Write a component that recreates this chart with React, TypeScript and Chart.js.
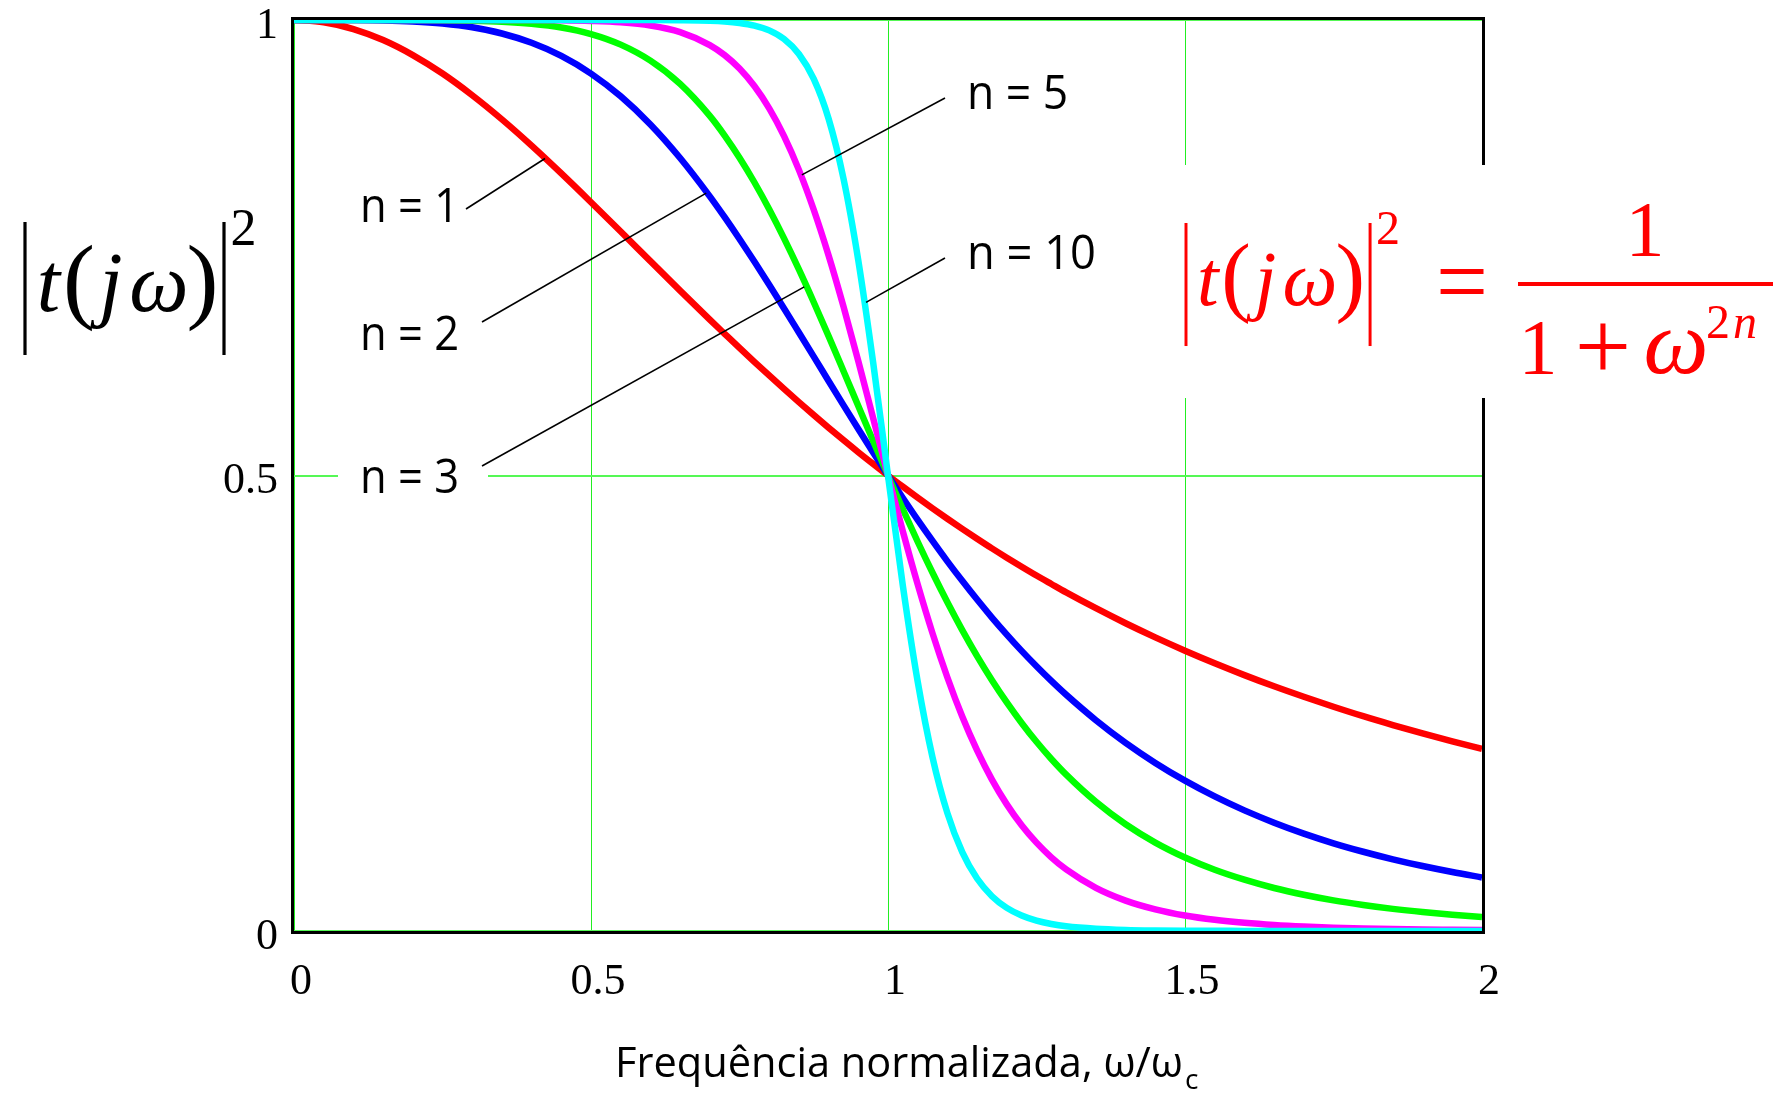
import React, { useEffect, useRef } from 'react';
import { Chart, registerables } from 'chart.js';

Chart.register(...registerables);

// ω / ωc sample positions
const OMEGA = [
  0, 0.05, 0.1, 0.15, 0.2, 0.25, 0.3, 0.35, 0.4, 0.45, 0.5, 0.55, 0.6, 0.65,
  0.7, 0.725, 0.75, 0.775, 0.8, 0.825, 0.85, 0.875, 0.9, 0.925, 0.95, 0.975, 1,
  1.025, 1.05, 1.075, 1.1, 1.125, 1.15, 1.175, 1.2, 1.225, 1.25, 1.275, 1.3,
  1.35, 1.4, 1.45, 1.5, 1.55, 1.6, 1.65, 1.7, 1.75, 1.8, 1.85, 1.9, 1.95, 2,
];

const N1 = [
  1, 0.9975, 0.9901, 0.978, 0.9615, 0.9412, 0.9174, 0.8909, 0.8621, 0.8316, 0.8, 0.7678, 0.7353, 0.703,
  0.6711, 0.6555, 0.64, 0.6248, 0.6098, 0.595, 0.5806, 0.5664, 0.5525, 0.5389, 0.5256, 0.5127, 0.5,
  0.4877, 0.4756, 0.4639, 0.4525, 0.4414, 0.4306, 0.42, 0.4098, 0.3999, 0.3902, 0.3809, 0.3717,
  0.3543, 0.3378, 0.3223, 0.3077, 0.2939, 0.2809, 0.2686, 0.2571, 0.2462, 0.2358, 0.2261, 0.2169, 0.2082, 0.2,
];

const N2 = [
  1, 1, 0.9999, 0.9995, 0.9984, 0.9961, 0.992, 0.9852, 0.975, 0.9606, 0.9412, 0.9162, 0.8853, 0.8485,
  0.8064, 0.7835, 0.7596, 0.7349, 0.7094, 0.6834, 0.657, 0.6305, 0.6038, 0.5773, 0.5511, 0.5253, 0.5,
  0.4753, 0.4513, 0.4282, 0.4058, 0.3844, 0.3638, 0.3441, 0.3254, 0.3075, 0.2906, 0.2745, 0.2593,
  0.2314, 0.2065, 0.1845, 0.165, 0.1477, 0.1324, 0.1189, 0.1069, 0.0963, 0.087, 0.0787, 0.0713, 0.0647, 0.0588,
];

const N3 = [
  1, 1, 1, 1, 1, 0.9998, 0.9993, 0.9982, 0.9959, 0.9918, 0.9846, 0.973, 0.9554, 0.9299,
  0.8948, 0.8732, 0.8489, 0.8219, 0.7923, 0.7603, 0.7262, 0.6902, 0.653, 0.6148, 0.5763, 0.5379, 0.5,
  0.463, 0.4273, 0.3932, 0.3608, 0.3303, 0.3018, 0.2753, 0.2509, 0.2284, 0.2077, 0.1888, 0.1716,
  0.1418, 0.1172, 0.0971, 0.0807, 0.0672, 0.0563, 0.0472, 0.0398, 0.0336, 0.0286, 0.0243, 0.0208, 0.0179, 0.0154,
];

const N5 = [
  1, 1, 1, 1, 1, 1, 1, 1, 0.9999, 0.9997, 0.999, 0.9975, 0.994, 0.9867,
  0.9725, 0.9614, 0.9467, 0.9275, 0.903, 0.8726, 0.8355, 0.7917, 0.7415, 0.6856, 0.6255, 0.563, 0.5,
  0.4386, 0.3804, 0.3267, 0.2783, 0.2354, 0.1982, 0.1662, 0.139, 0.1161, 0.097, 0.0809, 0.0676,
  0.0474, 0.0334, 0.0238, 0.017, 0.0123, 0.009, 0.0066, 0.0049, 0.0037, 0.0028, 0.0021, 0.0016, 0.0013, 0.001,
];

const N10 = [
  1, 1, 1, 1, 1, 1, 1, 1, 1, 1, 1, 1, 1, 0.9998,
  0.9992, 0.9984, 0.9968, 0.9939, 0.9886, 0.9791, 0.9627, 0.9353, 0.8916, 0.8262, 0.7361, 0.624, 0.5,
  0.379, 0.2737, 0.1905, 0.1294, 0.0866, 0.0576, 0.0382, 0.0254, 0.017, 0.0114, 0.0077, 0.0052,
  0.0025, 0.0012, 0.0006, 0.0003, 0.0002, 0.0001, 0, 0, 0, 0, 0, 0, 0, 0,
];

const SERIES_LABELS = ['n = 1', 'n = 2', 'n = 3', 'n = 5', 'n = 10'];
const SERIES_COLORS = ['#ff0000', '#0000ff', '#00ff00', '#ff00ff', '#00ffff'];
const X_TICKS = ['0', '0.5', '1', '1.5', '2'];
const Y_TICKS = ['0', '0.5', '1'];
const X_TITLE = 'Frequência normalizada, ω/ω';
const X_TITLE_SUB = 'c';

const SERIF = '"Liberation Serif", "Times New Roman", serif';
const SANS = '"Open Sans", "Liberation Sans", sans-serif';

// label placement (pixels) and where each leader line meets its curve (data coords)
const LABEL_LAYOUT = [
  { x: 360, base: 222, w: 99, from: [466, 209], to: [0.4226, 0.848] },
  { x: 360, base: 350, w: 99, from: [482, 322], to: [0.694, 0.81] },
  { x: 360, base: 493, w: 99, from: [482, 466], to: [0.859, 0.707] },
  { x: 967, base: 109, w: 101, from: [945, 98], to: [0.855, 0.83] },
  { x: 967, base: 269, w: 129, from: [945, 258], to: [0.963, 0.69] },
];

function drawAbsT(ctx: CanvasRenderingContext2D, x0: number, top: number, s: number, color: string) {
  ctx.fillStyle = color;
  ctx.fillRect(x0 - 1.6 * s, top, 3.2 * s, 133 * s);
  ctx.fillRect(x0 + 199 * s - 1.6 * s, top, 3.2 * s, 133 * s);
  ctx.textAlign = 'center';
  ctx.textBaseline = 'alphabetic';
  const base = top + 89 * s;
  ctx.font = `italic ${84 * s}px ${SERIF}`;
  ctx.fillText('t', x0 + 23.5 * s, base);
  ctx.fillText('j', x0 + 86 * s, base);
  ctx.fillText('ω', x0 + 134 * s, base);
  ctx.font = `${96 * s}px ${SERIF}`;
  ctx.fillText('(', x0 + 54 * s, base);
  ctx.fillText(')', x0 + 177.5 * s, base);
  ctx.font = `${52 * s}px ${SERIF}`;
  ctx.fillText('2', x0 + 218.5 * s, top + 23 * s);
}

const annotPlugin = {
  id: 'annotations',
  beforeDatasetsDraw(chart: any) {
    const { ctx, chartArea: a } = chart;
    ctx.save();
    ctx.strokeStyle = '#000';
    ctx.lineWidth = 3;
    ctx.strokeRect(a.left - 1.5, a.top - 1.5, a.right - a.left + 3, a.bottom - a.top + 3);
    ctx.restore();
  },
  afterDatasetsDraw(chart: any) {
    const ctx: CanvasRenderingContext2D = chart.ctx;
    const xs = chart.scales.x;
    const ys = chart.scales.y;
    ctx.save();

    // white backgrounds behind labels and formula
    ctx.fillStyle = '#fff';
    LABEL_LAYOUT.forEach((L) => ctx.fillRect(L.x - 22, L.base - 45, L.w + 51, 58));
    ctx.fillRect(1179, 165, 602, 233);

    // labels
    ctx.fillStyle = '#000';
    ctx.font = `48px ${SANS}`;
    ctx.textAlign = 'left';
    ctx.textBaseline = 'alphabetic';
    SERIES_LABELS.forEach((t, i) => {
      const L = LABEL_LAYOUT[i];
      ctx.fillText(t, L.x, L.base, L.w);
    });

    // leader lines
    ctx.strokeStyle = '#000';
    ctx.lineWidth = 1.6;
    LABEL_LAYOUT.forEach((L) => {
      ctx.beginPath();
      ctx.moveTo(L.from[0], L.from[1]);
      ctx.lineTo(xs.getPixelForValue(L.to[0]), ys.getPixelForValue(L.to[1]));
      ctx.stroke();
    });

    // y-axis title |t(jω)|²
    drawAbsT(ctx, 25, 222, 1, '#000');

    // red formula
    const red = '#ff0000';
    drawAbsT(ctx, 1186, 223, 0.925, red);
    ctx.fillStyle = red;
    ctx.textAlign = 'center';
    ctx.font = `100px ${SERIF}`;
    ctx.fillText('=', 1462, 315, 52);
    ctx.font = `78px ${SERIF}`;
    ctx.fillText('1', 1645, 255);
    ctx.fillRect(1518, 282, 255, 4);
    ctx.fillText('1', 1538, 373);
    ctx.font = `100px ${SERIF}`;
    ctx.fillText('+', 1603, 380);
    ctx.font = `italic 92px ${SERIF}`;
    ctx.fillText('ω', 1676, 373);
    ctx.font = `48px ${SERIF}`;
    ctx.fillText('2', 1718, 338);
    ctx.font = `italic 48px ${SERIF}`;
    ctx.fillText('n', 1745, 338);

    // x-axis title
    ctx.fillStyle = '#000';
    ctx.textAlign = 'left';
    ctx.font = `42px ${SANS}`;
    ctx.fillText(X_TITLE, 615, 1077, 568);
    const tw = Math.min(ctx.measureText(X_TITLE).width, 568);
    ctx.font = `28px ${SANS}`;
    ctx.fillText(X_TITLE_SUB, 615 + tw + 2, 1089);

    ctx.restore();
  },
};

export default function App() {
  const ref = useRef<HTMLCanvasElement>(null);

  useEffect(() => {
    const canvas = ref.current;
    if (!canvas) return;
    const series = [N1, N2, N3, N5, N10];
    const chart = new Chart(canvas, {
      type: 'line',
      data: {
        datasets: series.map((vals, i) => ({
          label: SERIES_LABELS[i],
          data: OMEGA.map((x, k) => ({ x, y: vals[k] })),
          borderColor: SERIES_COLORS[i],
          backgroundColor: SERIES_COLORS[i],
          borderWidth: 6.5,
          pointRadius: 0,
          fill: false,
          cubicInterpolationMode: 'monotone',
          clip: 0,
          order: series.length - 1 - i,
        })),
      },
      options: {
        responsive: false,
        animation: false,
        devicePixelRatio: 1,
        layout: { padding: { top: 20, right: 299, left: 0, bottom: 0 } },
        plugins: {
          legend: { display: false },
          tooltip: { enabled: false },
          title: { display: false },
        },
        scales: {
          x: {
            type: 'linear',
            min: 0,
            max: 2,
            ticks: {
              stepSize: 0.5,
              autoSkip: false,
              maxRotation: 0,
              padding: 25,
              labelOffset: 7,
              color: '#000',
              font: { family: SERIF, size: 44 },
              callback: (_v: any, i: number) => X_TICKS[i],
            },
            grid: { color: '#22ee22', lineWidth: 1, drawTicks: false },
            border: { display: false },
            afterFit: (s: any) => {
              s.height = 163;
              s.paddingLeft = 0;
              s.paddingRight = 0;
            },
          },
          y: {
            type: 'linear',
            min: 0,
            max: 1,
            ticks: {
              stepSize: 0.5,
              autoSkip: false,
              padding: 16,
              labelOffset: 6,
              color: '#000',
              font: { family: SERIF, size: 44 },
              callback: (_v: any, i: number) => Y_TICKS[i],
            },
            grid: { color: '#55f855', lineWidth: 2, drawTicks: false },
            border: { display: false },
            afterFit: (s: any) => {
              s.width = 294;
              s.paddingTop = 0;
              s.paddingBottom = 0;
            },
          },
        },
      } as any,
      plugins: [annotPlugin],
    });
    return () => chart.destroy();
  }, []);

  return (
    <div style={{ position: 'fixed', left: 0, top: 0, width: 1781, height: 1094, background: '#fff' }}>
      <canvas ref={ref} width={1781} height={1094} style={{ display: 'block' }} />
    </div>
  );
}
